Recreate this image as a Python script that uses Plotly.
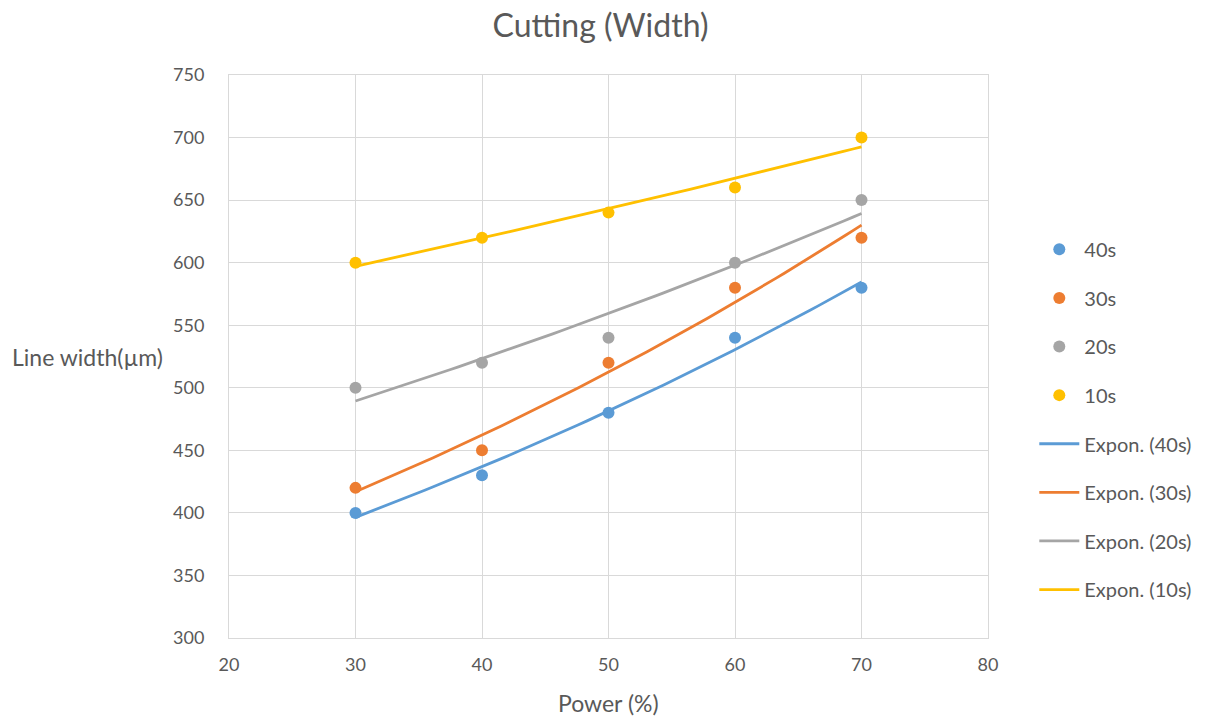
import numpy as np
import plotly.graph_objects as go

power = [30, 40, 50, 60, 70]
series_names = ["40s", "30s", "20s", "10s"]
width_40s = [400, 430, 480, 540, 580]
width_30s = [420, 450, 520, 580, 620]
width_20s = [500, 520, 540, 600, 650]
width_10s = [600, 620, 640, 660, 700]
colors = ["#5B9BD5", "#ED7D31", "#A5A5A5", "#FFC000"]

x_ticks = [20, 30, 40, 50, 60, 70, 80]
y_ticks = [300, 350, 400, 450, 500, 550, 600, 650, 700, 750]

FONT = "Lato"
TXT = "#595959"
all_series = [width_40s, width_30s, width_20s, width_10s]

fig = go.Figure()
for name, ys, c in zip(series_names, all_series, colors):
    fig.add_trace(go.Scatter(
        x=power, y=ys, mode="markers", name=name,
        marker=dict(color=c, size=12),
        legendgroup=name,
    ))

# Exponential trendlines (least squares on ln y, as in Excel)
xs = np.linspace(min(power), max(power), 60)
for name, ys, c in zip(series_names, all_series, colors):
    b, ln_a = np.polyfit(power, np.log(ys), 1)
    fig.add_trace(go.Scatter(
        x=xs, y=np.exp(ln_a) * np.exp(b * xs), mode="lines",
        name=f"Expon. ({name})",
        line=dict(color=c, width=2.8),
        legendgroup="exp" + name,
    ))

axis_common = dict(
    showgrid=True, gridcolor="#D9D9D9", gridwidth=1,
    zeroline=False, showline=True, linecolor="#D9D9D9", linewidth=1, mirror=True,
    ticks="outside", tickcolor="rgba(0,0,0,0)",
    tickfont=dict(family=FONT, size=18, color=TXT),
)
fig.update_xaxes(range=[20, 80], tickvals=x_ticks, ticklen=10, **axis_common)
fig.update_yaxes(range=[300, 750], tickvals=y_ticks, ticklen=20, **axis_common)

fig.update_layout(
    width=1208, height=720,
    paper_bgcolor="white", plot_bgcolor="white",
    margin=dict(l=221, r=228, t=67, b=90, autoexpand=False),
    title=dict(text="Cutting (Width)", x=0.4905, xanchor="center", y=0.975, yanchor="middle",
               font=dict(family=FONT, size=32, color=TXT)),
    legend=dict(x=1.061, xanchor="left", y=0.725, yanchor="top",
                font=dict(family=FONT, size=20, color=TXT),
                tracegroupgap=19.6, itemwidth=40, bgcolor="rgba(0,0,0,0)"),
    showlegend=True,
    annotations=[
        dict(text="Line width(µm)", xref="paper", yref="paper", x=-0.2885, y=0.5,
             xanchor="left", yanchor="middle", showarrow=False,
             font=dict(family=FONT, size=23, color=TXT)),
        dict(text="Power (%)", xref="paper", yref="paper", x=0.5, y=-0.115,
             xanchor="center", yanchor="middle", showarrow=False,
             font=dict(family=FONT, size=23, color=TXT)),
    ],
)

fig.write_html("out.html")
